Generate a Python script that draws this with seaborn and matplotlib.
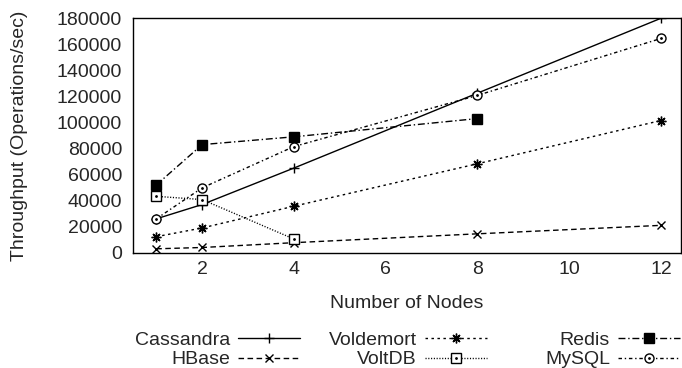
import numpy as np
import matplotlib
matplotlib.use("Agg")
import matplotlib.pyplot as plt
import seaborn as sns
from matplotlib.lines import Line2D
from matplotlib.legend_handler import HandlerTuple
from matplotlib.ticker import MultipleLocator

# Dados
nodes = [1, 2, 4, 8, 12]
cassandra = [26000, 37000, 65000, 122500, 180000]
hbase = [3000, 4000, 7700, 14500, 21000]
voldemort = [12300, 19000, 35700, 68300, 101500]
voltdb_nodes = [1, 2, 4]
voltdb = [43300, 40800, 10500]
redis_nodes = [1, 2, 4, 8]
redis = [52000, 83000, 89000, 103000]
mysql = [26000, 49800, 81500, 120800, 164500]

sns.set_style("white")
plt.rcParams['font.family'] = ['Liberation Sans', 'DejaVu Sans']
plt.rcParams['font.size'] = 14

fig = plt.figure(figsize=(6.82, 3.68), dpi=100)
ax = fig.add_axes([0.1955, 0.3133, 0.998 - 0.1955, 0.9503 - 0.3133])

# estilo de cada série (parecido com gnuplot)
series = [
    ("Cassandra", nodes, cassandra, "-", "+", 7, False, None),
    ("HBase", nodes, hbase, (0, (4, 2.5)), "x", 5.5, False, None),
    ("Voldemort", nodes, voldemort, (0, (1.8, 2.5)), (8, 2, 0), 7, False, None),
    ("VoltDB", voltdb_nodes, voltdb, (0, (0.8, 1.2)), "s", 6.5, True, "white"),
    ("Redis", redis_nodes, redis, (0, (5, 2, 1, 2)), "s", 6.5, False, "black"),
    ("MySQL", nodes, mysql, (0, (2.5, 2, 1, 2)), "o", 6.5, True, "white"),
]

handles = {}
for name, xs, ys, ls, mk, ms, dot, fill in series:
    sns.lineplot(x=xs, y=ys, ax=ax, color="black", linestyle=ls, linewidth=1.0,
                 marker=mk, markersize=ms, markerfacecolor=fill if fill else "black",
                 markeredgecolor="black", markeredgewidth=1.0, zorder=3)
    h = Line2D([], [], color="black", linestyle=ls, linewidth=1.0, marker=mk,
               markersize=ms, markerfacecolor=fill if fill else "black",
               markeredgecolor="black", markeredgewidth=1.0)
    if dot:
        # ponto central dos marcadores abertos
        ax.plot(xs, ys, linestyle="none", marker=".", markersize=2, color="black", zorder=4)
        d = Line2D([], [], linestyle="none", marker=".", markersize=2, color="black")
        handles[name] = (h, d)
    else:
        handles[name] = h

ax.set_xlim(0.5, 12.43)
ax.set_ylim(0, 180000)
ax.xaxis.set_major_locator(MultipleLocator(2))
ax.xaxis.set_minor_locator(MultipleLocator(1))
ax.yaxis.set_major_locator(MultipleLocator(20000))
ax.yaxis.set_minor_locator(MultipleLocator(10000))
ax.tick_params(which="both", direction="in", top=False, right=False, color="black")
ax.tick_params(which="major", length=6.3, width=1.0)
ax.tick_params(which="minor", length=3.5, width=1.0)
ax.tick_params(axis="y", pad=8)
ax.tick_params(axis="x", pad=6)
for s in ax.spines.values():
    s.set_color("black")
    s.set_linewidth(1.0)

ax.set_xlabel("Number of Nodes", labelpad=12)
ax.set_ylabel("Throughput (Operations/sec)", labelpad=21)

# legenda em 3 colunas, texto à esquerda (estilo gnuplot)
cols = [("Cassandra", "HBase"), ("Voldemort", "VoltDB"), ("Redis", "MySQL")]
right_edges = [300, 487, 680]
for (a, b), xr in zip(cols, right_edges):
    leg = fig.legend([handles[a], handles[b]], [a, b], loc="center right",
                     bbox_to_anchor=(xr / 682, 1 - 350 / 368), frameon=False,
                     markerfirst=False, handlelength=3.2, handletextpad=0.4,
                     labelspacing=0.08, borderpad=0, borderaxespad=0,
                     handler_map={tuple: HandlerTuple(ndivide=1)})

fig.savefig("out.png", dpi=100)
